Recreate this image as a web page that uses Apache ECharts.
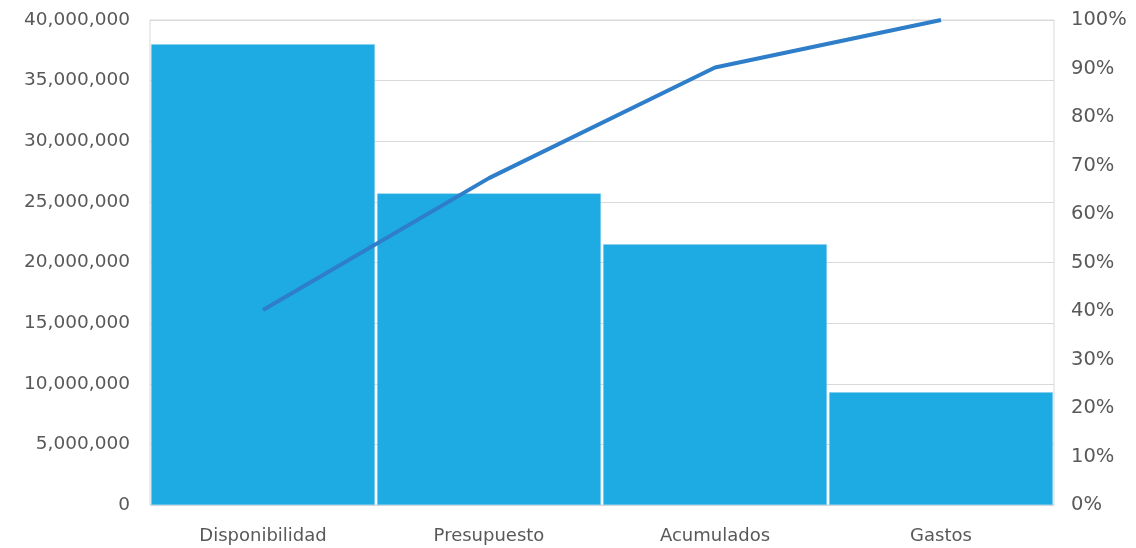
<!DOCTYPE html>
<html><head><meta charset="utf-8">
<script src="https://cdn.jsdelivr.net/npm/echarts@6/dist/echarts.min.js"></script>
<style>html,body{margin:0;padding:0;background:#fff}#c{width:1136px;height:548px}</style>
</head><body><div id="c"></div>
<script>
const categories = ['Disponibilidad', 'Presupuesto', 'Acumulados', 'Gastos'];
const amounts = [38000000, 25700000, 21500000, 9300000];
const cumulativePct = [40.2, 67.4, 90.2, 100];
const leftTicks = {min: 0, max: 40000000, interval: 5000000};
const rightTicks = {min: 0, max: 100, interval: 10};

const chart = echarts.init(document.getElementById('c'));
const font = '"DejaVu Sans", sans-serif';
chart.setOption({
  animation: false,
  grid: {left: 150, right: 82, top: 20, bottom: 43, show: true, borderColor: '#d9d9d9', borderWidth: 1},
  xAxis: {
    type: 'category', data: categories,
    axisLine: {show: false}, axisTick: {show: false},
    axisLabel: {color: '#595959', fontSize: 18, fontFamily: font, margin: 22}
  },
  yAxis: [{
    type: 'value', min: leftTicks.min, max: leftTicks.max, interval: leftTicks.interval,
    axisLine: {show: false}, axisTick: {show: false},
    splitLine: {lineStyle: {color: '#d9d9d9', width: 1}},
    axisLabel: {color: '#595959', fontSize: 18.5, fontFamily: font, margin: 20,
      formatter: v => v.toLocaleString('en-US')}
  }, {
    type: 'value', min: rightTicks.min, max: rightTicks.max, interval: rightTicks.interval,
    axisLine: {show: false}, axisTick: {show: false}, splitLine: {show: false},
    axisLabel: {color: '#595959', fontSize: 19.5, fontFamily: font, margin: 17, formatter: '{value}%'}
  }],
  series: [{
    type: 'bar', data: amounts, barCategoryGap: '1%',
    itemStyle: {color: '#1eaae2', borderColor: '#7fcdee', borderWidth: 0.5}
  }, {
    type: 'line', yAxisIndex: 1, data: cumulativePct,
    symbol: 'none', lineStyle: {color: '#2e7ec9', width: 4}
  }]
});
</script></body></html>
